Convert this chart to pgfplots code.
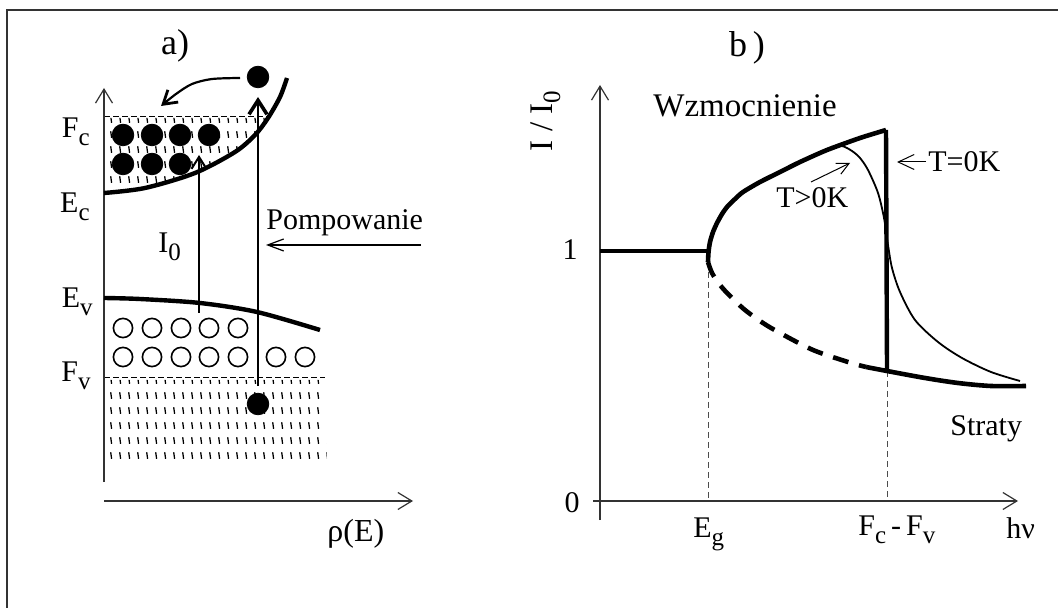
\documentclass[border=0pt]{standalone}
\usepackage{pgfplots}
\pgfplotsset{compat=1.18}
\usepackage{fontspec}
\setmainfont{Liberation Serif}
\usetikzlibrary{arrows.meta,patterns}
\pgfdeclarepatternformonly{ticks}{\pgfpointorigin}{\pgfpoint{4.5pt}{7.25pt}}{\pgfpoint{4.5pt}{7.25pt}}{%
  \pgfsetlinewidth{0.7pt}%
  \pgfpathmoveto{\pgfpoint{1.5pt}{5.5pt}}%
  \pgfpathlineto{\pgfpoint{2.0pt}{2.1pt}}%
  \pgfusepath{stroke}}
\newcommand\sub[1]{\raisebox{-4pt}{\fontsize{12.5}{12.5}\selectfont #1}}
\begin{document}
\begin{tikzpicture}[
  txt/.style={font=\fontsize{15}{17}\selectfont, inner sep=0pt},
  ax/.style={line width=0.6pt, black!80},
  axarrow/.style={-{Straight Barb[length=7pt,width=8.5pt,line width=0.6pt]}},
]
\begin{axis}[
  width=529pt, height=304pt, scale only axis,
  xmin=0, xmax=1058, ymin=0, ymax=608, y dir=reverse,
  hide axis, clip=false,
]
% frame
\addplot[line width=1pt, black!80] coordinates {(7,608) (7,10) (1058,10)};

% ================= panel a =================
% hatched regions
\addplot[draw=none, pattern=ticks, pattern color=black] coordinates {(104,118) (268,118) (255,135) (235,152) (195,173) (145,188) (104,193)} -- cycle;
\addplot[draw=none, pattern=ticks, pattern color=black] coordinates {(104,380) (322,380) (327,459) (110,459)} -- cycle;
% Fermi levels
\addplot[line width=0.5pt, dash pattern=on 3pt off 1.5pt] coordinates {(104,117) (268,117)};
\addplot[line width=0.5pt, dash pattern=on 3pt off 1.5pt] coordinates {(104,378) (325,378)};
% axes
\addplot[ax, axarrow] coordinates {(104,482) (104,88)};
\addplot[ax, axarrow] coordinates {(104,501) (413,501)};
% band edges
\addplot[line width=2.2pt, smooth] coordinates {(104,193) (145,188) (195,173) (235,152) (255,135) (268,118) (280,97) (287,78)};
\addplot[line width=2.2pt, smooth] coordinates {(104,298) (140,299) (200,303) (257,312) (320,330)};
% electrons
\addplot[only marks, mark=*, mark size=5.4pt, black] coordinates {(123,135) (152,135) (180,135) (209,135) (123,164) (152,164) (180,164)};
\addplot[only marks, mark=*, mark size=5.4pt, black] coordinates {(258,77) (258,404)};
% holes
\addplot[only marks, mark=o, mark size=4.8pt, line width=0.8pt, black] coordinates {(123,328) (152,328) (181,328) (209,328) (238,328) (123,357) (152,357) (181,357) (209,357) (238,357) (276,357) (305,357)};
% transitions
\addplot[line width=1pt, -{Straight Barb[length=6pt,width=7.5pt,line width=1pt]}] coordinates {(199,313) (199,155)};
\addplot[line width=1.1pt, -{Straight Barb[length=7pt,width=9pt,line width=1.8pt]}] coordinates {(258,386) (258,97)};
\addplot[line width=1.1pt, smooth, -{Straight Barb[length=6.5pt,width=8pt,line width=1.4pt]}] coordinates {(240,78) (212,79) (192,84) (176,94) (161,106)};
% pumping arrow
\addplot[line width=0.6pt, -{Straight Barb[length=8pt,width=6pt,line width=0.6pt]}] coordinates {(421,245) (266,245)};

\node[txt, anchor=center, font=\fontsize{18}{20}\selectfont] at (axis cs:175,46) {a)};
\node[txt, anchor=base east] at (axis cs:90,138) {F\sub{c}};
\node[txt, anchor=base east] at (axis cs:90,213) {E\sub{c}};
\node[txt, anchor=base east] at (axis cs:93,308) {E\sub{v}};
\node[txt, anchor=base east] at (axis cs:91,382) {F\sub{v}};
\node[txt, anchor=base west] at (axis cs:158,253) {I\sub{0}};
\node[txt, anchor=base west] at (axis cs:266,230) {Pompowanie};
\node[txt, anchor=base west, font=\fontsize{16}{17}\selectfont] at (axis cs:327,541) {ρ(E)};

% ================= panel b =================
% guide lines
\addplot[line width=0.5pt, black!70, dash pattern=on 3pt off 2pt] coordinates {(708,262) (708,501)};
\addplot[line width=0.5pt, black!70, dash pattern=on 3pt off 2pt] coordinates {(887,371) (887,501)};
% axes
\addplot[ax, axarrow] coordinates {(600,520) (600,85)};
\addplot[ax, axarrow] coordinates {(593,501) (1018,501)};
% I/I0 = 1 below gap
\addplot[line width=2pt] coordinates {(600,251) (708,251)};
% gain curve T=0
\addplot[line width=2.3pt, smooth, tension=0.4] coordinates {(708,262) (708.5,252) (710,242) (713,232) (717,223) (722,214) (727,207) (735,199) (743,192) (760,182) (780,172) (800,162) (827,150) (860,138) (886,130)};
\addplot[line width=2.2pt] coordinates {(886,130) (887,371)};
% T>0K curve
\addplot[line width=0.9pt, smooth] coordinates {(831,147) (842,146) (852,151) (860,158) (868,170) (878,193) (884,218) (888,245) (892,268) (900,292) (915,320) (938,342) (962,358) (991,372) (1020,381)};
% losses
\addplot[line width=2.3pt, smooth, dash pattern=on 8pt off 5.5pt] coordinates {(708,262) (712,273) (720,285) (730,296) (745,310) (763,323) (780,333) (813,350) (848,362) (866,367)};
\addplot[line width=2.3pt, smooth] coordinates {(866,367) (887,371) (925,378) (958,383) (991,386) (1026,386)};
% annotation arrows
\addplot[line width=0.5pt, -{Straight Barb[length=8pt,width=7.5pt,line width=0.5pt]}] coordinates {(926,162) (897,162)};
\addplot[line width=0.5pt, -{Straight Barb[length=6pt,width=6pt,line width=0.5pt]}] coordinates {(811,182) (850,163)};

\node[txt, anchor=center, font=\fontsize{18}{20}\selectfont] at (axis cs:747,48) {b\,)};
\node[txt, anchor=base, rotate=90, font=\fontsize{16.5}{18}\selectfont] at (axis cs:552,121) {I / I\sub{0}};
\node[txt, anchor=base west, font=\fontsize{16.5}{18}\selectfont] at (axis cs:653,117) {Wzmocnienie};
\node[txt, anchor=base east] at (axis cs:578,260) {1};
\node[txt, anchor=base east] at (axis cs:580,512) {0};
\node[txt, anchor=base west] at (axis cs:693,537) {E\sub{g}};
\node[txt, anchor=base west] at (axis cs:858,535) {F\sub{c}\,-\,F\sub{v}};
\node[txt, anchor=base west] at (axis cs:1006,538) {hν};
\node[txt, anchor=base west] at (axis cs:950,435) {Straty};
\node[txt, anchor=base west] at (axis cs:928,172) {T=0K};
\node[txt, anchor=base west] at (axis cs:776,208) {T>0K};

\path (rel axis cs:0,0) coordinate (bl) (rel axis cs:1,1) coordinate (tr);
\end{axis}
\pgfresetboundingbox
\path[use as bounding box] (bl) rectangle (tr);
\end{tikzpicture}
\end{document}
